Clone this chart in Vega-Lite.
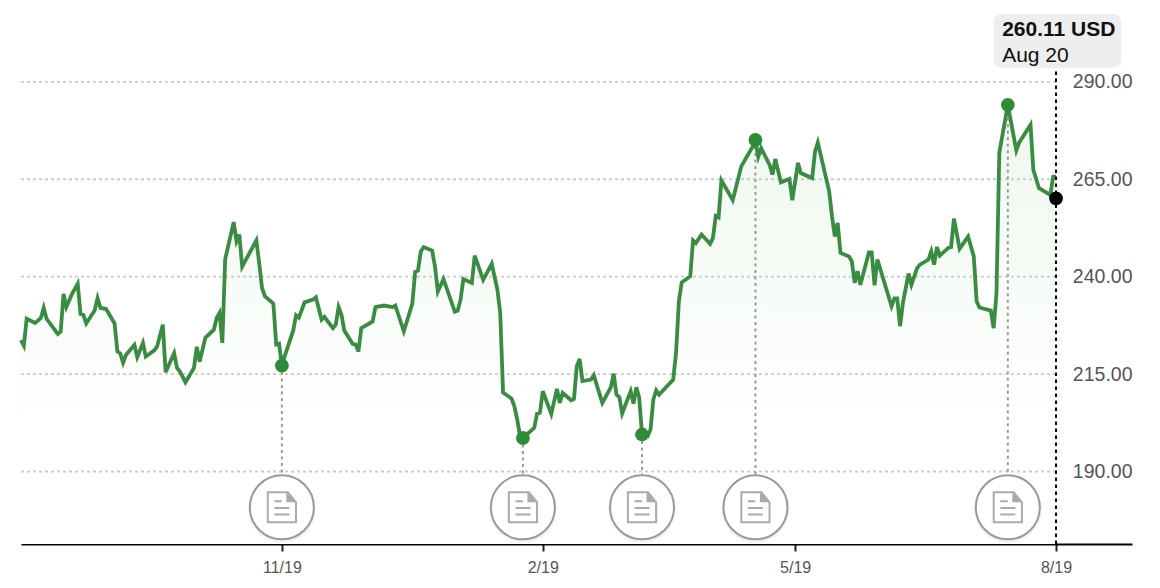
{"$schema":"https://vega.github.io/schema/vega-lite/v6.json","width":1111,"height":544,"autosize":{"type":"none"},"padding":{"left":21,"top":0,"right":28,"bottom":44},"background":"white","config":{"view":{"stroke":null},"font":"Liberation Sans"},
"datasets":{"price":[
{"date":"2018-08-19","value":223.7},{"date":"2018-08-20","value":222.3},{"date":"2018-08-21","value":229.2},{"date":"2018-08-24","value":228.1},{"date":"2018-08-26","value":229.4},{"date":"2018-08-27","value":232},{"date":"2018-08-28","value":229.2},{"date":"2018-09-01","value":225.3},{"date":"2018-09-02","value":225.9},{"date":"2018-09-03","value":235.6},{"date":"2018-09-04","value":232.2},{"date":"2018-09-06","value":235.6},{"date":"2018-09-08","value":238.2},{"date":"2018-09-09","value":230.4},{"date":"2018-09-10","value":230.2},{"date":"2018-09-11","value":228},{"date":"2018-09-14","value":231.4},{"date":"2018-09-15","value":234.5},{"date":"2018-09-16","value":232},{"date":"2018-09-18","value":231.7},{"date":"2018-09-21","value":228},{"date":"2018-09-22","value":220.8},{"date":"2018-09-23","value":220.3},{"date":"2018-09-24","value":217.9},{"date":"2018-09-25","value":219.9},{"date":"2018-09-28","value":222.5},{"date":"2018-09-29","value":219.4},{"date":"2018-10-01","value":223},{"date":"2018-10-02","value":219.5},{"date":"2018-10-05","value":221.1},{"date":"2018-10-06","value":222.1},{"date":"2018-10-08","value":227.7},{"date":"2018-10-09","value":215.5},{"date":"2018-10-12","value":220.4},{"date":"2018-10-13","value":216.6},{"date":"2018-10-14","value":215.7},{"date":"2018-10-16","value":212.9},{"date":"2018-10-19","value":216.6},{"date":"2018-10-20","value":222},{"date":"2018-10-21","value":218.2},{"date":"2018-10-23","value":224.3},{"date":"2018-10-26","value":226.4},{"date":"2018-10-27","value":229.4},{"date":"2018-10-28","value":230.7},{"date":"2018-10-29","value":223},{"date":"2018-10-30","value":244.5},{"date":"2018-11-02","value":254},{"date":"2018-11-03","value":249.1},{"date":"2018-11-04","value":250.8},{"date":"2018-11-05","value":242.6},{"date":"2018-11-10","value":249.3},{"date":"2018-11-11","value":243.5},{"date":"2018-11-12","value":237.1},{"date":"2018-11-13","value":235},{"date":"2018-11-16","value":233.1},{"date":"2018-11-17","value":222.6},{"date":"2018-11-18","value":222.8},{"date":"2018-11-19","value":217.2},{"date":"2018-11-20","value":219.6},{"date":"2018-11-23","value":226.2},{"date":"2018-11-24","value":230.1},{"date":"2018-11-25","value":229.5},{"date":"2018-11-27","value":233.4},{"date":"2018-11-30","value":234.1},{"date":"2018-12-01","value":234.7},{"date":"2018-12-03","value":229},{"date":"2018-12-04","value":229.7},{"date":"2018-12-07","value":226.8},{"date":"2018-12-08","value":227.7},{"date":"2018-12-09","value":232.2},{"date":"2018-12-10","value":230.3},{"date":"2018-12-11","value":226.2},{"date":"2018-12-14","value":222.7},{"date":"2018-12-15","value":222.6},{"date":"2018-12-16","value":220.8},{"date":"2018-12-17","value":226.8},{"date":"2018-12-21","value":228.5},{"date":"2018-12-22","value":232.2},{"date":"2018-12-25","value":232.6},{"date":"2018-12-28","value":232.2},{"date":"2018-12-29","value":232.6},{"date":"2019-01-01","value":226},{"date":"2019-01-04","value":233.1},{"date":"2019-01-05","value":241.2},{"date":"2019-01-06","value":241.6},{"date":"2019-01-07","value":246.5},{"date":"2019-01-08","value":247.6},{"date":"2019-01-11","value":246.7},{"date":"2019-01-12","value":242.6},{"date":"2019-01-13","value":236.2},{"date":"2019-01-15","value":239.4},{"date":"2019-01-19","value":231},{"date":"2019-01-20","value":231.3},{"date":"2019-01-21","value":234.1},{"date":"2019-01-22","value":239.4},{"date":"2019-01-25","value":238.4},{"date":"2019-01-26","value":245.4},{"date":"2019-01-29","value":239.2},{"date":"2019-02-01","value":243.3},{"date":"2019-02-03","value":236.7},{"date":"2019-02-04","value":230.7},{"date":"2019-02-05","value":210.3},{"date":"2019-02-08","value":208.7},{"date":"2019-02-09","value":206.7},{"date":"2019-02-10","value":203.3},{"date":"2019-02-11","value":199.1},{"date":"2019-02-12","value":198.6},{"date":"2019-02-16","value":201.2},{"date":"2019-02-17","value":204.9},{"date":"2019-02-18","value":205.1},{"date":"2019-02-19","value":210.6},{"date":"2019-02-22","value":204.8},{"date":"2019-02-24","value":211.2},{"date":"2019-02-25","value":207.6},{"date":"2019-02-26","value":210.2},{"date":"2019-03-01","value":208.3},{"date":"2019-03-02","value":208.6},{"date":"2019-03-03","value":217},{"date":"2019-03-04","value":218.9},{"date":"2019-03-05","value":213.2},{"date":"2019-03-08","value":213.6},{"date":"2019-03-09","value":214.7},{"date":"2019-03-10","value":212.3},{"date":"2019-03-12","value":207.6},{"date":"2019-03-15","value":211.6},{"date":"2019-03-16","value":215.1},{"date":"2019-03-17","value":209.7},{"date":"2019-03-18","value":209.1},{"date":"2019-03-19","value":204.9},{"date":"2019-03-22","value":210.6},{"date":"2019-03-23","value":207.4},{"date":"2019-03-24","value":211.6},{"date":"2019-03-25","value":209},{"date":"2019-03-26","value":199.6},{"date":"2019-03-28","value":199.1},{"date":"2019-03-29","value":200.8},{"date":"2019-03-30","value":208.5},{"date":"2019-03-31","value":210.8},{"date":"2019-04-01","value":209.7},{"date":"2019-04-06","value":213.6},{"date":"2019-04-07","value":220.4},{"date":"2019-04-08","value":233.7},{"date":"2019-04-09","value":238.5},{"date":"2019-04-12","value":240.1},{"date":"2019-04-13","value":249.3},{"date":"2019-04-14","value":248.6},{"date":"2019-04-16","value":250.8},{"date":"2019-04-19","value":248.4},{"date":"2019-04-20","value":249.9},{"date":"2019-04-21","value":255.6},{"date":"2019-04-22","value":255.2},{"date":"2019-04-23","value":264.7},{"date":"2019-04-27","value":259.7},{"date":"2019-04-30","value":268.3},{"date":"2019-05-05","value":274.6},{"date":"2019-05-06","value":270.8},{"date":"2019-05-07","value":273},{"date":"2019-05-10","value":268.7},{"date":"2019-05-11","value":266.2},{"date":"2019-05-12","value":270.2},{"date":"2019-05-14","value":264.2},{"date":"2019-05-17","value":265.1},{"date":"2019-05-18","value":259.6},{"date":"2019-05-20","value":269.2},{"date":"2019-05-21","value":266.6},{"date":"2019-05-25","value":265.3},{"date":"2019-05-26","value":272},{"date":"2019-05-27","value":274.4},{"date":"2019-05-31","value":261.9},{"date":"2019-06-01","value":255.5},{"date":"2019-06-02","value":250.3},{"date":"2019-06-03","value":253.8},{"date":"2019-06-04","value":246.1},{"date":"2019-06-07","value":245.2},{"date":"2019-06-08","value":243.9},{"date":"2019-06-09","value":238.4},{"date":"2019-06-10","value":241.4},{"date":"2019-06-11","value":237.9},{"date":"2019-06-14","value":246.2},{"date":"2019-06-15","value":246.2},{"date":"2019-06-16","value":237.8},{"date":"2019-06-17","value":244.4},{"date":"2019-06-22","value":232.4},{"date":"2019-06-23","value":234.4},{"date":"2019-06-24","value":234.4},{"date":"2019-06-25","value":227.3},{"date":"2019-06-26","value":233.3},{"date":"2019-06-28","value":240.8},{"date":"2019-06-29","value":237.9},{"date":"2019-07-01","value":242.2},{"date":"2019-07-02","value":243.1},{"date":"2019-07-05","value":244.4},{"date":"2019-07-06","value":246.5},{"date":"2019-07-07","value":243.1},{"date":"2019-07-08","value":247.6},{"date":"2019-07-09","value":245.4},{"date":"2019-07-12","value":247.4},{"date":"2019-07-13","value":247.6},{"date":"2019-07-14","value":254.9},{"date":"2019-07-16","value":247.2},{"date":"2019-07-19","value":250.3},{"date":"2019-07-21","value":245.2},{"date":"2019-07-22","value":233.7},{"date":"2019-07-23","value":232.1},{"date":"2019-07-27","value":231.3},{"date":"2019-07-28","value":226.8},{"date":"2019-07-29","value":235.8},{"date":"2019-07-30","value":271.8},{"date":"2019-08-02","value":284.1},{"date":"2019-08-05","value":272.4},{"date":"2019-08-06","value":274.4},{"date":"2019-08-10","value":279},{"date":"2019-08-11","value":267.4},{"date":"2019-08-13","value":262.7},{"date":"2019-08-17","value":261},{"date":"2019-08-18","value":265.7},{"date":"2019-08-19","value":265.7}
],
"events":[{"date":"2018-11-19","value":217.2},{"date":"2019-02-12","value":198.6},{"date":"2019-03-26","value":199.5},{"date":"2019-05-05","value":275.1},{"date":"2019-08-02","value":284.1}],
"grid":[{"date":"2018-08-19","to":"2019-08-19","value":190},{"date":"2018-08-19","to":"2019-08-19","value":215},{"date":"2018-08-19","to":"2019-08-19","value":240},{"date":"2018-08-19","to":"2019-08-19","value":265},{"date":"2018-08-19","to":"2019-08-19","value":290}]},
"data":{"name":"price"},
"encoding":{"x":{"field":"date","type":"temporal","title":null,"scale":{"type":"utc","domain":["2018-08-19","2019-09-14T19:00:00Z"]},"axis":{"values":[{"utc":true,"year":2018,"month":11,"date":19},{"utc":true,"year":2019,"month":2,"date":19},{"utc":true,"year":2019,"month":5,"date":19},{"utc":true,"year":2019,"month":8,"date":19}],"labelExpr":"utcFormat(datum.value,'%-m/%-d')","grid":false,"domainColor":"#000","domainWidth":2,"tickColor":"#222","tickWidth":2,"tickSize":7,"labelColor":"#555","labelFontSize":16,"labelPadding":8,"labelFont":"Liberation Sans"}},
"y":{"field":"value","type":"quantitative","title":null,"scale":{"domain":[171.4,311],"nice":false,"zero":false},"axis":{"orient":"right","values":[190,215,240,265,290],"format":".2f","grid":false,"domain":false,"ticks":false,"labelAlign":"right","labelPadding":0,"labelColor":"#555","labelFontSize":19.5,"labelFont":"Liberation Sans"}}},
"layer":[
{"mark":{"type":"area","color":{"gradient":"linear","x1":0,"y1":0,"x2":0,"y2":1,"stops":[{"offset":0,"color":"#eef7ee"},{"offset":0.75,"color":"#ffffff"}]}},"encoding":{"y2":{"datum":171.4}}},
{"data":{"name":"grid"},"mark":{"type":"rule","stroke":"#cccccc","strokeWidth":1.8,"strokeDash":[3,3]},"encoding":{"x2":{"field":"to"}}},
{"data":{"name":"events"},"mark":{"type":"rule","stroke":"#9a9a9a","strokeWidth":2,"strokeDash":[3,3.5]},"encoding":{"y2":{"datum":180.8}}},
{"mark":{"type":"line","color":"#3a8c42","strokeWidth":3.8,"strokeJoin":"miter"}},
{"data":{"name":"events"},"mark":{"type":"point","filled":true,"color":"#2e8b38","size":190,"opacity":1}},
{"data":{"name":"events"},"mark":{"type":"point","filled":true,"color":"#000000","size":4600,"opacity":0.05},"encoding":{"y":{"datum":180.4}}},
{"data":{"name":"events"},"mark":{"type":"point","filled":true,"fill":"#fff","stroke":"#9a9a9a","strokeWidth":2,"size":4096,"opacity":1},"encoding":{"y":{"datum":180.8}}},
{"data":{"name":"events"},"mark":{"type":"point","filled":false,"stroke":"#aaaaaa","strokeWidth":2,"size":3600,"opacity":1,"shape":"M-0.47,-0.5L0.2,-0.5L0.47,-0.17L0.47,0.5L-0.47,0.5ZM-0.25,-0.2L0,-0.2M-0.25,0.02L0.25,0.02M-0.25,0.24L0.25,0.24"},"encoding":{"y":{"datum":180.8}}},
{"data":{"name":"events"},"mark":{"type":"point","filled":true,"color":"#aaaaaa","size":3600,"opacity":1,"shape":"M0.15,-0.5L0.47,-0.17L0.15,-0.17Z"},"encoding":{"y":{"datum":180.8}}},
{"data":{"values":[{"date":"2019-08-19","value":171.4,"top":293.6}]},"mark":{"type":"rule","stroke":"#000","strokeWidth":2,"strokeDash":[3.5,3.5]},"encoding":{"y2":{"field":"top"}}},
{"data":{"values":[{"date":"2019-08-19","value":260.11}]},"mark":{"type":"point","filled":true,"color":"#000","size":190,"opacity":1}},
{"data":{"values":[{"date":"2019-07-28","to":"2019-09-11","value":293.6,"top":307.4}]},"mark":{"type":"rect","fill":"#eeeeee","cornerRadius":8},"encoding":{"x2":{"field":"to"},"y2":{"field":"top"}}},
{"data":{"values":[{"date":"2019-07-31","value":301.8,"label":"260.11 USD"}]},"mark":{"type":"text","align":"left","baseline":"alphabetic","fontSize":21,"fontWeight":"bold","color":"#111"},"encoding":{"text":{"field":"label"}}},
{"data":{"values":[{"date":"2019-07-31","value":295.1,"label":"Aug 20"}]},"mark":{"type":"text","align":"left","baseline":"alphabetic","fontSize":21,"color":"#111"},"encoding":{"text":{"field":"label"}}}
]}
